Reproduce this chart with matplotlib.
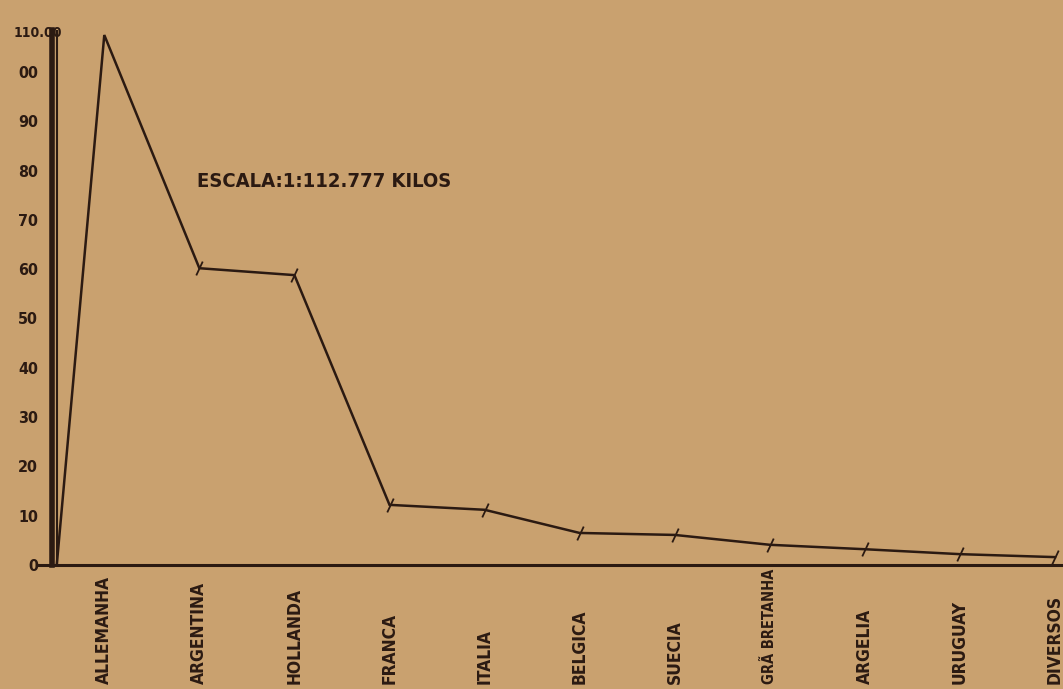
import matplotlib
matplotlib.use("Agg")
import matplotlib.pyplot as plt
from matplotlib.transforms import blended_transform_factory

countries = ["ALLEMANHA", "ARGENTINA", "HOLLANDA", "FRANCA", "ITALIA", "BELGICA",
             "SUECIA", "GRÃ BRETANHA", "ARGELIA", "URUGUAY", "DIVERSOS"]
values = [107.5, 60.2, 58.8, 12.2, 11.2, 6.5, 6.1, 4.1, 3.2, 2.2, 1.6]
y_ticks = [0, 10, 20, 30, 40, 50, 60, 70, 80, 90, 100]
y_labels = ["0", "10", "20", "30", "40", "50", "60", "70", "80", "90", "00"]
top_label = "110.00"
top_value = 108
scale_text = "ESCALA:1:112.777 KILOS"

bg = "#c9a16f"
ink = "#2b1a12"
font = ["DejaVu Sans"]

W, H = 1063, 689
fig = plt.figure(figsize=(W / 100, H / 100), dpi=100, facecolor=bg)
x0, y0, ytop = 52, 565, 30
ax = fig.add_axes([x0 / W, (H - y0) / H, 1 - x0 / W, (y0 - ytop) / H])
ax.set_facecolor(bg)

pos = list(range(1, len(countries) + 1))
xs = [0.5] + pos
ys = [0] + values
ax.plot(xs, ys, color=ink, lw=1.8, solid_joinstyle="miter", clip_on=False)
ax.plot(pos[1:], values[1:], ls="none", marker=(2, 0, -25), ms=11, mew=1.3,
        color=ink, clip_on=False)

ax.set_xlim(0.45, 1 + (W - 105) / 95)
ax.set_ylim(0, (y0 - ytop) / 4.93)

for s in ["top", "right"]:
    ax.spines[s].set_visible(False)
ax.spines["left"].set_linewidth(4)
ax.spines["left"].set_color(ink)
ax.spines["bottom"].set_linewidth(2.2)
ax.spines["bottom"].set_color(ink)
ax.axvline(0.505, color=ink, lw=1.5)
ax.plot([-0.013, 0], [0, 0], transform=ax.transAxes, color=ink, lw=2.2, clip_on=False)

ax.set_yticks(y_ticks)
ax.set_yticklabels(y_labels, family=font, fontweight="bold", fontsize=11.5,
                   fontstretch="condensed", color=ink)
ax.tick_params(axis="y", length=0, pad=10)
ax.set_xticks(pos)
ax.set_xticklabels([])
ax.tick_params(axis="x", length=0)

trl = blended_transform_factory(fig.transFigure, ax.transData)
ax.text(14 / W, top_value, top_label, transform=trl, ha="left", va="center",
        family=font, fontweight="bold", fontsize=10, fontstretch="condensed",
        color=ink, clip_on=False)

tr = blended_transform_factory(ax.transData, fig.transFigure)
for p, name in zip(pos, countries):
    ax.text(p, 5 / H, name, transform=tr, rotation=90, ha="center", va="bottom",
            family=font, fontweight="bold", fontsize=12.5 if len(name) <= 10 else 10.5,
            fontstretch="condensed", color=ink, clip_on=False)

ax.text(1.97, 77.7, scale_text, family=font, fontweight="bold", fontsize=14.5,
        fontstretch="condensed", color=ink, va="center", ha="left")

fig.savefig("out.png", dpi=100, facecolor=bg)
